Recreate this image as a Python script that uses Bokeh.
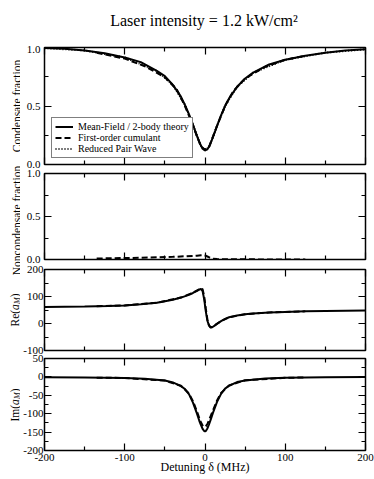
import math
from bokeh.plotting import figure
from bokeh.models import (Range1d, LinearAxis, FixedTicker, PrintfTickFormatter,
                          CustomJSTickFormatter, Label, Legend, LegendItem)
from bokeh.layouts import column, row
from bokeh.embed import file_html
from bokeh.resources import INLINE

FONT = "Liberation Serif"

# ---------------- texts ----------------
TITLE = "Laser intensity = 1.2 kW/cm\u00b2"
X_LABEL = "Detuning \u03b4 (MHz)"
Y1_LABEL = "Condensate fraction"
Y2_LABEL = "Noncondensate fraction"
Y3_HEAD = "Re("
Y4_HEAD = "Im("
LEG_SOLID = "Mean-Field / 2-body theory"
LEG_DASH = "First-order cumulant"
LEG_DOT = "Reduced Pair Wave"

# ---------------- ticks ----------------
X_TICKS = [-200, -100, 0, 100, 200]
X_MINOR = [-150, -50, 50, 150]
FRAC_TICKS = [0.0, 0.5, 1.0]
FRAC_MINOR = [0.25, 0.75]
RE_TICKS = [-100, 0, 100, 200]
RE_MINOR = [-50, 50, 150]
IM_TICKS = [-200, -150, -100, -50, 0, 50]
IM_MINOR = [-175, -125, -75, -25, 25]

# ---------------- data ----------------
# Condensate fraction, mean-field / 2-body
cf_x = [-200, -175, -150, -125, -100, -80, -60, -50, -40, -30, -25, -20, -15, -10, -6, -3, 0,
        3, 6, 10, 15, 20, 25, 30, 40, 50, 60, 80, 100, 125, 150, 175, 200]
cf_mf = [0.995, 0.99, 0.975, 0.95, 0.915, 0.875, 0.80, 0.755, 0.68, 0.58, 0.51, 0.43, 0.34,
         0.245, 0.175, 0.135, 0.12, 0.13, 0.165, 0.235, 0.33, 0.42, 0.50, 0.565, 0.665,
         0.735, 0.785, 0.855, 0.895, 0.93, 0.955, 0.975, 0.985]
# Condensate fraction, first-order cumulant
cc_x = [-135, -100, -75, -50, -35, -25, -15, -10, -5, 0, 5, 10, 15, 25, 35, 50, 75, 100, 125]
cc_y = [0.955, 0.905, 0.84, 0.745, 0.64, 0.50, 0.335, 0.24, 0.155, 0.125, 0.15, 0.24, 0.33,
        0.50, 0.625, 0.735, 0.835, 0.895, 0.93]
# Condensate fraction, reduced pair wave
rp_x = [-200, -150, -100, -60, -40, -25, -15, -10, -5, 0, 5, 10, 15, 25, 40, 60, 100, 150, 200]
rp_y = [0.995, 0.975, 0.915, 0.80, 0.68, 0.51, 0.34, 0.245, 0.16, 0.12, 0.15, 0.235, 0.33,
        0.50, 0.665, 0.785, 0.895, 0.955, 0.985]
# Noncondensate fraction, first-order cumulant
nc_x = [-135, -120, -100, -80, -60, -40, -25, -15, -10, -5, -2, 0, 3, 6, 10, 15, 20, 30, 50,
        75, 100, 125]
nc_y = [0.012, 0.014, 0.017, 0.02, 0.025, 0.031, 0.037, 0.042, 0.045, 0.049, 0.05, 0.047,
        0.035, 0.022, 0.01, 0.005, 0.003, 0.002, 0.002, 0.001, 0.001, 0.001]
# Re(a_M)
re_x = [-200, -150, -120, -100, -80, -60, -40, -30, -20, -15, -10, -7, -5, -3, -1, 1, 3, 5, 7,
        9, 12, 15, 20, 25, 30, 40, 50, 60, 80, 100, 125, 150, 175, 200]
re_mf = [61, 63, 65, 67, 71, 77, 88, 96, 106, 113, 121, 126, 128, 120, 90, 45, 10, -8, -15,
         -14, -8, -1, 9, 17, 23, 30, 34, 37, 41, 43, 45, 46.5, 47.5, 48.5]
re_cx = [-135, -100, -60, -30, -15, -8, -5, -3, -1, 1, 3, 5, 7, 9, 12, 20, 30, 50, 80, 125]
re_cy = [64, 67, 77, 96, 114, 125, 130, 127, 100, 55, 15, -6, -14, -13, -7, 9, 23, 34, 41, 45]
# Im(a_M)
im_x = [-200, -150, -100, -75, -50, -40, -30, -25, -20, -15, -10, -7, -5, -3, -1, 0, 1, 3, 5,
        7, 10, 15, 20, 25, 30, 40, 50, 75, 100, 150, 200]
im_mf = [-1, -1.5, -3, -5, -10, -15, -25, -33, -47, -70, -100, -120, -131, -141, -147, -148,
         -147, -140, -129, -117, -97, -68, -46, -32, -24, -14, -9.5, -4.5, -2.5, -1, -0.5]
im_cx = [-135, -100, -50, -30, -20, -15, -10, -6, -3, -1, 1, 3, 6, 10, 15, 20, 30, 50, 100,
         125]
im_cy = [-2, -3, -10, -24, -45, -66, -94, -119, -132, -136, -134, -128, -112, -91, -64, -44,
         -23, -9, -2.5, -1.5]

# ---------------- layout (page pixels) ----------------
PAGE_W = 374
LAB_W = 20            # strip with the rotated y titles
PAN_W = PAGE_W - LAB_W
BL, BR = 22, 9        # frame from x=42 to x=365
TITLE_H = 45
F1 = (2, 117, 4)      # top border, frame height, bottom border
F2 = (5, 86, 5)
F3 = (5, 81, 4)
F4 = (4, 93, 25)


def style_axis(ax, labels):
    ax.axis_line_color = None
    ax.major_tick_in = 7
    ax.major_tick_out = 0
    ax.minor_tick_in = 4
    ax.minor_tick_out = 0
    ax.major_tick_line_color = "black"
    ax.minor_tick_line_color = "black"
    ax.major_tick_line_width = 1.2
    ax.minor_tick_line_width = 1.2
    if labels:
        ax.major_label_text_font = FONT
        ax.major_label_text_font_size = "11px"
        ax.major_label_text_color = "black"
        ax.axis_label_text_font = FONT
        ax.axis_label_text_font_size = "12px"
        ax.axis_label_text_font_style = "normal"
        ax.axis_label_text_color = "black"
    else:
        ax.formatter = CustomJSTickFormatter(code="return ''")
        ax.major_label_text_font_size = "0px"
        ax.major_label_standoff = 0
        ax.axis_label_standoff = 0


def make_fig(dims, yr, yticks, yminor, yfmt, standoff, xlabels=False):
    top, fh, bottom = dims
    p = figure(width=PAN_W, height=top + fh + bottom, x_range=Range1d(-200, 200),
               y_range=Range1d(*yr), output_backend="svg", toolbar_location=None,
               x_axis_location=None, y_axis_location=None,
               min_border_left=BL, min_border_right=BR,
               min_border_top=top, min_border_bottom=bottom)
    p.grid.visible = False
    p.outline_line_color = "black"
    p.outline_line_width = 1.5
    p.background_fill_color = "white"
    p.border_fill_color = "white"

    below = LinearAxis(ticker=FixedTicker(ticks=X_TICKS, minor_ticks=X_MINOR))
    style_axis(below, xlabels)
    if xlabels:
        below.formatter = PrintfTickFormatter(format="%d")
        below.major_label_standoff = 3
        below.axis_label = X_LABEL
        below.axis_label_standoff = -4
    p.add_layout(below, "below")

    above = LinearAxis(ticker=FixedTicker(ticks=X_TICKS, minor_ticks=X_MINOR))
    style_axis(above, False)
    p.add_layout(above, "above")

    left = LinearAxis(ticker=FixedTicker(ticks=yticks, minor_ticks=yminor))
    style_axis(left, True)
    left.formatter = PrintfTickFormatter(format=yfmt)
    left.major_label_standoff = standoff
    p.add_layout(left, "left")

    right = LinearAxis(ticker=FixedTicker(ticks=yticks, minor_ticks=yminor))
    style_axis(right, False)
    p.add_layout(right, "right")
    return p


def blank_fig(w, h, xr, yr):
    p = figure(width=w, height=h, x_range=Range1d(*xr), y_range=Range1d(*yr),
               output_backend="svg", toolbar_location=None,
               x_axis_location=None, y_axis_location=None,
               min_border_left=0, min_border_right=0, min_border_top=0, min_border_bottom=0)
    p.grid.visible = False
    p.outline_line_color = None
    p.background_fill_color = "white"
    p.border_fill_color = "white"
    return p


LW = 2.0

# ---- title strip ----
pt = blank_fig(PAGE_W, TITLE_H, (0, PAGE_W), (TITLE_H, 0))
pt.add_layout(Label(x=203.5, y=20, text=TITLE, text_align="center",
                    text_baseline="alphabetic", text_font=FONT, text_font_size="16px",
                    text_color="black"))

# ---- Panel 1 ----
p1 = make_fig(F1, (0, 1), FRAC_TICKS, FRAC_MINOR, "%.1f", 4)
r_dot = p1.line(rp_x, rp_y, line_color="black", line_width=LW, line_dash="1 2")
r_dash = p1.line(cc_x, cc_y, line_color="black", line_width=LW, line_dash="6 3")
r_solid = p1.line(cf_x, cf_mf, line_color="black", line_width=LW)
leg = Legend(items=[LegendItem(label=LEG_SOLID, renderers=[r_solid]),
                    LegendItem(label=LEG_DASH, renderers=[r_dash]),
                    LegendItem(label=LEG_DOT, renderers=[r_dot])],
             location=(7, 6))
leg.border_line_color = "black"
leg.border_line_width = 1
leg.background_fill_color = "white"
leg.background_fill_alpha = 1
leg.padding = 3
leg.spacing = 0
leg.margin = 0
leg.label_height = 11
leg.glyph_height = 11
leg.glyph_width = 18
leg.label_standoff = 5
leg.label_text_font = FONT
leg.label_text_font_size = "10px"
leg.label_text_color = "black"
p1.add_layout(leg, "center")

# ---- Panel 2 ----
p2 = make_fig(F2, (0, 1), FRAC_TICKS, FRAC_MINOR, "%.1f", 4)
p2.line(nc_x, nc_y, line_color="black", line_width=LW, line_dash="6 3")

# ---- Panel 3 ----
p3 = make_fig(F3, (-100, 200), RE_TICKS, RE_MINOR, "%d", 1)
p3.line(re_cx, re_cy, line_color="black", line_width=LW, line_dash="6 3")
p3.line(re_x, re_mf, line_color="black", line_width=LW)

# ---- Panel 4 ----
p4 = make_fig(F4, (-200, 50), IM_TICKS, IM_MINOR, "%d", 1, xlabels=True)
p4.line(im_cx, im_cy, line_color="black", line_width=LW, line_dash="6 3")
p4.line(im_x, im_mf, line_color="black", line_width=LW)

# ---- rotated y titles (page coordinates) ----
col_h = sum(sum(d) for d in (F1, F2, F3, F4))
y0 = TITLE_H
ylab = blank_fig(LAB_W, col_h, (0, LAB_W), (y0 + col_h, y0))


def vlabel(txt, x, y, size="11.5px", style="normal", align="center"):
    ylab.add_layout(Label(x=x, y=y, text=txt, angle=math.pi / 2, text_align=align,
                          text_baseline="alphabetic", text_font=FONT, text_font_size=size,
                          text_font_style=style, text_color="black"))


f1_top = y0 + F1[0]
f1_mid = f1_top + F1[1] / 2
f2_top = y0 + sum(F1) + F2[0]
f2_mid = f2_top + F2[1] / 2
f3_top = y0 + sum(F1) + sum(F2) + F3[0]
f3_mid = f3_top + F3[1] / 2
f4_top = y0 + sum(F1) + sum(F2) + sum(F3) + F4[0]
f4_mid = f4_top + F4[1] / 2

vlabel(Y1_LABEL, 16, f1_mid)
vlabel(Y2_LABEL, 16, f2_mid + 4)


def complex_label(head, mid):
    s = mid + 16.5
    vlabel(head, 14, s, align="left")
    vlabel("a", 14, s - 16.6, style="italic", align="left")
    vlabel("M", 17, s - 22.4, size="8px", style="italic", align="left")
    vlabel(")", 14, s - 29.2, align="left")


complex_label(Y3_HEAD, f3_mid)
complex_label(Y4_HEAD, f4_mid)

layout = column(pt, row(ylab, column(p1, p2, p3, p4, spacing=0), spacing=0), spacing=0)
open("out.html", "w").write(file_html(layout, INLINE))
